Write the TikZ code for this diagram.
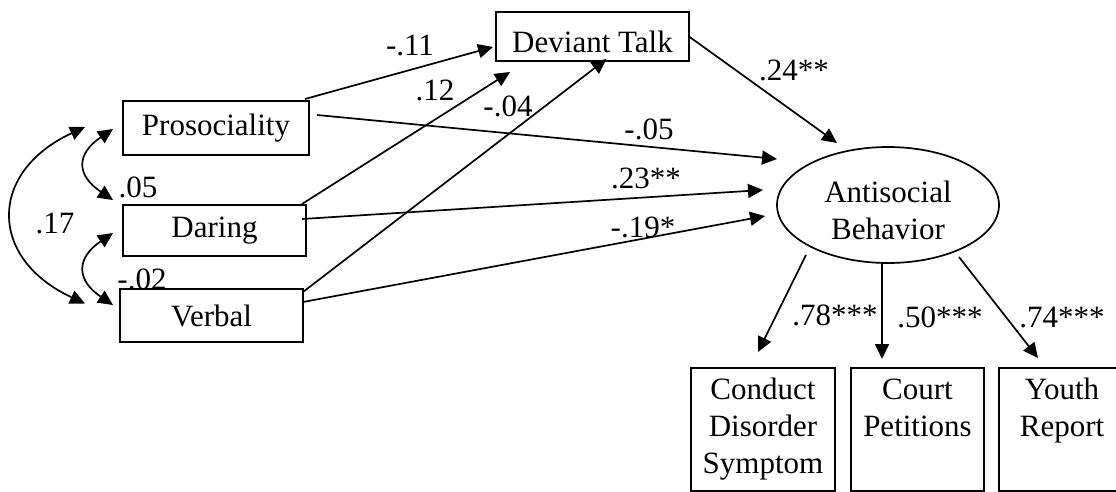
\documentclass[tikz,border=0pt]{standalone}
\usepackage{fontspec}
\setmainfont{Liberation Serif}
\usetikzlibrary{arrows.meta}
\usetikzlibrary{calc,positioning}
\usetikzlibrary{shapes.geometric}

\begin{document}
\begin{tikzpicture}[x=1pt,y=-1pt,font=\fontsize{31}{37}\selectfont]
    \def\lw{1.7pt}
    \def\indH{123pt}

    \tikzstyle{box}=[draw,fill=white,line width=\lw,outer sep=0pt,inner sep=0pt,align=center]
    \tikzstyle{latent}=[draw,ellipse,line width=\lw,outer sep=0pt,inner sep=0pt,align=center,
    minimum width=222pt,minimum height=116pt]
    \tikzstyle{effect}=[line width=\lw,-{Triangle[length=15pt,width=14pt]}]
    \tikzstyle{covar}=[line width=\lw,{Triangle[length=15pt,width=14pt]}-{Triangle[length=15pt,width=14pt]}]
    \tikzstyle{coef}=[inner sep=0pt]

    \useasboundingbox (0,0) rectangle (1116,492);

    % Coefficients
    \node[coef] (c11) at (410,45) {-.11};
    \node[coef] (c12) at (435,90) {.12};
    \node[coef] (c04) at (508,106) {-.04};
    \node[coef] (c05) at (649,129) {-.05};
    \node[coef] (c23) at (646,178) {.23**};
    \node[coef] (c19) at (643,227) {-.19*};
    \node[coef] (c24) at (794,70) {.24**};
    \node[coef] (r05) at (138,187) {.05};
    \node[coef] (r17) at (55,223) {.17};
    \node[coef] (r02) at (142,279) {-.02};
    \node[coef] (l78) at (835,315) {.78***};
    \node[coef] (l50) at (940,317) {.50***};
    \node[coef] (l74) at (1062,318) {.74***};

    % Predictors
    \node[box, minimum width=186pt, minimum height=54pt] (pro) at (216,128) {Prosociality};
    \node[box, minimum width=183pt, minimum height=51pt] (dar) at (214.5,230.5) {Daring};
    \node[box, minimum width=183pt, minimum height=53pt] (verb) at (211.5,315.5) {Verbal};

    % Mediator and outcome
    \node[box, minimum width=193pt, minimum height=49pt, text height=32pt] (dt) at (592.5,36.5) {Deviant Talk};
    \node[latent, text height=69pt] (ab) at (888,205) {Antisocial\\Behavior};

    % Indicators
    \node[box, minimum width=144pt, minimum height=\indH] (cds) at (763,429.5) {Conduct\\Disorder\\Symptom};
    \node[box, minimum width=133pt, minimum height=\indH] (cp) at (917.5,429.5) {Court\\Petitions\\\phantom{Symptom}};
    \node[box, minimum width=126pt, minimum height=\indH] (yr) at (1062,429.5) {Youth\\Report\\\phantom{Symptom}};

    % Correlations
    \draw[covar] ($(pro.west)+(-10,1)$) .. controls +(-37,25) and +(-37,-25) .. ($(dar.north west)+(-10,-5)$);
    \draw[covar] ($(dar.west)+(-10,2.5)$) .. controls +(-37,25) and +(-37,-25) .. ($(verb.west)+(-7,-10.5)$);
    \draw[covar] ($(pro.west)+(-38,-1)$) .. controls +(-97,45) and +(-97,-45) .. ($(verb.west)+(-35,-12)$);

    % Paths to deviant talk
    \draw[effect] ($(pro.north east)+(-4,-2)$) -- ($(dt.west)+(-3,10.5)$);
    \draw[effect] ($(dar.north east)+(-4,-1)$) -- ($(dt.south west)+(14,11)$);
    \draw[effect] ($(verb.north east)+(0,3)$) -- ($(dt.south)+(14,-2)$);

    % Paths to antisocial behavior
    \draw[effect] ($(pro.east)+(8,-13)$) -- ($(ab.west)+(0,-46)$);
    \draw[effect] ($(dar.east)+(-4,-11.5)$) -- ($(ab.west)+(-14,-15)$);
    \draw[effect] ($(verb.east)+(0,-13.5)$) -- ($(ab.west)+(-12,11)$);
    \draw[effect] (dt.east) -- ($(ab.north)+(-51,-4)$);

    % Loadings
    \draw[effect] ($(ab.south)+(-82,-8)$) -- ($(cds.north)+(-5,-16)$);
    \draw[effect] ($(ab.south)+(-6,0)$) -- ($(cp.north)+(-35.5,-9)$);
    \draw[effect] ($(ab.south)+(71,-6)$) -- ($(yr.north)+(-24,-10)$);
\end{tikzpicture}
\end{document}
